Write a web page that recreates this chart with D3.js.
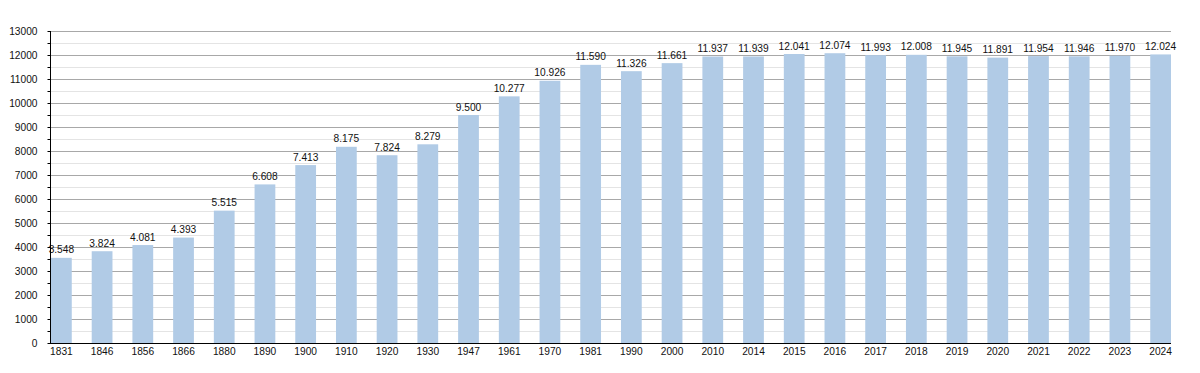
<!DOCTYPE html>
<html><head><meta charset="utf-8">
<script src="https://cdn.jsdelivr.net/npm/d3@7"></script>
<style>body{margin:0;background:#fff}svg{display:block;font-family:"Liberation Sans",Arial,sans-serif}</style>
</head><body>
<svg id="c" width="1200" height="373"></svg>
<script>
const years = ["1831","1846","1856","1866","1880","1890","1900","1910","1920","1930","1947","1961","1970","1981","1990","2000","2010","2014","2015","2016","2017","2018","2019","2020","2021","2022","2023","2024"];
const population = [3548,3824,4081,4393,5515,6608,7413,8175,7824,8279,9500,10277,10926,11590,11326,11661,11937,11939,12041,12074,11993,12008,11945,11891,11954,11946,11970,12024];
const yMajorTicks = [0,1000,2000,3000,4000,5000,6000,7000,8000,9000,10000,11000,12000,13000];
const yMinorTicks = [500,1500,2500,3500,4500,5500,6500,7500,8500,9500,10500,11500,12500];

const svg = d3.select("#c");
const x = d3.scaleBand().domain(years).range([51,1171]).paddingInner(0.49).paddingOuter(0);
const y = d3.scaleLinear().domain([0,13000]).range([343,31]);
const fmt = v => d3.format(",")(v).replace(/,/g,".");
const FS = 10.2;

// minor grid
svg.append("g").selectAll("line").data(yMinorTicks).join("line")
  .attr("x1",50).attr("x2",1171).attr("y1",d=>Math.round(y(d))+0.5).attr("y2",d=>Math.round(y(d))+0.5)
  .attr("stroke","#e4e4e4").attr("stroke-width",1);
// major grid
svg.append("g").selectAll("line").data(yMajorTicks.filter(d=>d>0)).join("line")
  .attr("x1",50).attr("x2",1171).attr("y1",d=>Math.round(y(d))+0.5).attr("y2",d=>Math.round(y(d))+0.5)
  .attr("stroke","#a8a8a8").attr("stroke-width",1);

// bars
svg.append("g").selectAll("rect").data(population).join("rect")
  .attr("x",(d,i)=>x(years[i])).attr("width",x.bandwidth())
  .attr("y",d=>y(d)).attr("height",d=>y(0)-y(d))
  .attr("fill","#b1cbe6");

// value labels
svg.append("g").selectAll("text").data(population).join("text")
  .attr("x",(d,i)=>x(years[i])+x.bandwidth()/2).attr("y",d=>y(d)-4.5)
  .attr("text-anchor","middle").attr("font-size",FS).attr("fill","#111")
  .text(d=>fmt(d));

// y axis
const ya = svg.append("g").attr("transform","translate(50.5,0)");
ya.call(d3.axisLeft(y).tickValues(yMajorTicks).tickSize(3).tickFormat(d=>d))
  .call(g=>g.select(".domain").remove());
ya.selectAll("text").attr("font-size",FS).attr("fill","#111").attr("font-family","Liberation Sans, Arial, sans-serif").attr("x",-13);
ya.selectAll(".tick line").attr("stroke","#000");
ya.append("g").selectAll("line").data(yMinorTicks).join("line")
  .attr("x1",-3).attr("x2",0).attr("y1",d=>Math.round(y(d))+0.5).attr("y2",d=>Math.round(y(d))+0.5).attr("stroke","#000");
svg.append("line").attr("x1",50.5).attr("x2",50.5).attr("y1",31).attr("y2",344).attr("stroke","#000");

// x axis
const xa = svg.append("g").attr("transform","translate(0,343.5)");
xa.call(d3.axisBottom(x).tickSize(0).tickPadding(4)).call(g=>g.select(".domain").remove());
xa.selectAll("text").attr("font-size",FS).attr("fill","#111").attr("font-family","Liberation Sans, Arial, sans-serif");
svg.append("line").attr("x1",50).attr("x2",1171).attr("y1",343.5).attr("y2",343.5).attr("stroke","#000");
</script>
</body></html>
